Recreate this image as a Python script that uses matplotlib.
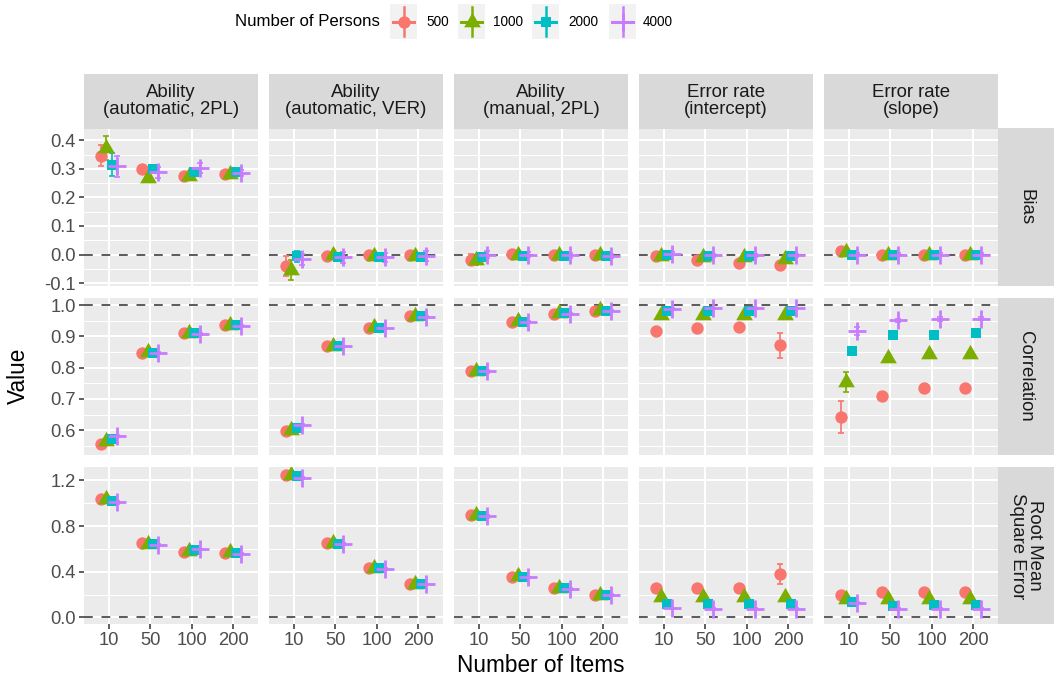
import numpy as np
import matplotlib
matplotlib.use('Agg')
import matplotlib.pyplot as plt
import matplotlib.ticker as mticker

plt.rcParams['font.family'] = ['Liberation Sans', 'DejaVu Sans']

ITEMS = ['10', '50', '100', '200']
PERSONS = ['500', '1000', '2000', '4000']
PARAMS = ['Ability\n(automatic, 2PL)', 'Ability\n(automatic, VER)', 'Ability\n(manual, 2PL)',
          'Error rate\n(intercept)', 'Error rate\n(slope)']
MEASURES = ['Bias', 'Correlation', 'Root Mean\nSquare Error']
REFERENCE = [0.0, 1.0, 0.0]

# values[param][persons][items]
BIAS = [
    [[0.346, 0.300, 0.274, 0.283], [0.373, 0.268, 0.276, 0.281], [0.315, 0.300, 0.288, 0.290], [0.309, 0.288, 0.303, 0.285]],
    [[-0.041, -0.004, -0.002, -0.003], [-0.055, -0.003, -0.004, -0.004], [-0.006, -0.010, -0.010, -0.008], [-0.017, -0.010, -0.010, -0.005]],
    [[-0.018, 0.003, -0.002, -0.003], [-0.020, 0.000, 0.000, 0.000], [-0.008, -0.005, -0.005, -0.005], [0.000, 0.000, -0.003, -0.005]],
    [[-0.006, -0.020, -0.030, -0.037], [-0.005, -0.010, -0.010, -0.015], [0.000, -0.005, -0.005, -0.005], [0.003, -0.003, -0.003, -0.003]],
    [[0.012, 0.000, -0.003, -0.003], [0.010, 0.000, 0.000, 0.000], [0.000, -0.003, 0.000, 0.000], [0.000, 0.000, 0.000, 0.000]],
]
BIAS_ERR = [
    [[0.037, 0.012, 0.008, 0.006], [0.042, 0.014, 0.008, 0.006], [0.041, 0.010, 0.008, 0.006], [0.036, 0.020, 0.018, 0.010]],
    [[0.035, 0.008, 0.006, 0.004], [0.035, 0.008, 0.006, 0.004], [0.020, 0.008, 0.006, 0.004], [0.020, 0.018, 0.016, 0.016]],
    [[0.020, 0.006, 0.004, 0.004], [0.015, 0.006, 0.004, 0.004], [0.010, 0.006, 0.004, 0.004], [0.012, 0.010, 0.008, 0.008]],
    [[0.005, 0.005, 0.005, 0.005], [0.005, 0.005, 0.005, 0.005], [0.005, 0.005, 0.005, 0.005], [0.005, 0.005, 0.005, 0.005]],
    [[0.005, 0.005, 0.005, 0.005], [0.005, 0.005, 0.005, 0.005], [0.005, 0.005, 0.005, 0.005], [0.005, 0.005, 0.005, 0.005]],
]

CORR = [
    [[0.557, 0.848, 0.911, 0.938], [0.565, 0.849, 0.911, 0.938], [0.572, 0.848, 0.910, 0.937], [0.581, 0.848, 0.908, 0.935]],
    [[0.597, 0.869, 0.928, 0.965], [0.601, 0.870, 0.929, 0.966], [0.607, 0.869, 0.928, 0.965], [0.617, 0.868, 0.926, 0.963]],
    [[0.789, 0.947, 0.973, 0.983], [0.790, 0.948, 0.975, 0.985], [0.790, 0.947, 0.974, 0.983], [0.788, 0.945, 0.973, 0.982]],
    [[0.917, 0.928, 0.930, 0.872], [0.970, 0.970, 0.970, 0.970], [0.981, 0.981, 0.981, 0.982], [0.989, 0.990, 0.990, 0.990]],
    [[0.642, 0.711, 0.736, 0.736], [0.754, 0.832, 0.844, 0.845], [0.855, 0.906, 0.905, 0.912], [0.917, 0.952, 0.956, 0.957]],
]
CORR_ERR = [
    [[0.004, 0.003, 0.002, 0.002], [0.004, 0.003, 0.002, 0.002], [0.004, 0.003, 0.002, 0.002], [0.004, 0.003, 0.002, 0.002]],
    [[0.004, 0.003, 0.002, 0.002], [0.004, 0.003, 0.002, 0.002], [0.004, 0.003, 0.002, 0.002], [0.004, 0.003, 0.002, 0.002]],
    [[0.004, 0.003, 0.002, 0.002], [0.004, 0.003, 0.002, 0.002], [0.004, 0.003, 0.002, 0.002], [0.004, 0.003, 0.002, 0.002]],
    [[0.006, 0.006, 0.006, 0.040], [0.004, 0.004, 0.004, 0.004], [0.003, 0.003, 0.003, 0.003], [0.002, 0.002, 0.002, 0.002]],
    [[0.050, 0.012, 0.006, 0.006], [0.032, 0.006, 0.006, 0.006], [0.008, 0.005, 0.005, 0.005], [0.012, 0.005, 0.005, 0.005]],
]

RMSE = [
    [[1.040, 0.650, 0.577, 0.568], [1.040, 0.645, 0.585, 0.570], [1.016, 0.640, 0.590, 0.565], [1.007, 0.638, 0.597, 0.556]],
    [[1.250, 0.650, 0.430, 0.293], [1.245, 0.650, 0.430, 0.295], [1.235, 0.645, 0.430, 0.295], [1.221, 0.640, 0.425, 0.290]],
    [[0.899, 0.351, 0.255, 0.196], [0.900, 0.360, 0.260, 0.200], [0.890, 0.352, 0.255, 0.198], [0.884, 0.350, 0.250, 0.195]],
    [[0.255, 0.255, 0.255, 0.380], [0.181, 0.180, 0.180, 0.180], [0.117, 0.115, 0.117, 0.120], [0.079, 0.078, 0.078, 0.078]],
    [[0.196, 0.220, 0.220, 0.220], [0.158, 0.165, 0.160, 0.160], [0.137, 0.099, 0.108, 0.110], [0.128, 0.078, 0.075, 0.075]],
]
RMSE_ERR = [
    [[0.010, 0.008, 0.006, 0.006], [0.010, 0.008, 0.006, 0.006], [0.010, 0.008, 0.006, 0.006], [0.010, 0.008, 0.006, 0.006]],
    [[0.010, 0.008, 0.006, 0.006], [0.010, 0.008, 0.006, 0.006], [0.010, 0.008, 0.006, 0.006], [0.010, 0.008, 0.006, 0.006]],
    [[0.010, 0.008, 0.006, 0.006], [0.010, 0.008, 0.006, 0.006], [0.010, 0.008, 0.006, 0.006], [0.010, 0.008, 0.006, 0.006]],
    [[0.010, 0.010, 0.010, 0.090], [0.008, 0.008, 0.008, 0.008], [0.006, 0.006, 0.006, 0.006], [0.005, 0.005, 0.005, 0.005]],
    [[0.010, 0.008, 0.008, 0.008], [0.008, 0.006, 0.006, 0.006], [0.006, 0.005, 0.005, 0.005], [0.005, 0.005, 0.005, 0.005]],
]

ROWS = [(BIAS, BIAS_ERR), (CORR, CORR_ERR), (RMSE, RMSE_ERR)]
Y_LIMITS = [(-0.11, 0.441), (0.52, 1.024), (-0.061, 1.318)]
Y_MAJOR = [[-0.1, 0.0, 0.1, 0.2, 0.3, 0.4], [0.6, 0.7, 0.8, 0.9, 1.0], [0.0, 0.4, 0.8, 1.2]]
Y_MINOR = [[-0.05, 0.05, 0.15, 0.25, 0.35], [0.55, 0.65, 0.75, 0.85, 0.95], [0.2, 0.6, 1.0]]

COLORS = ['#F8766D', '#7CAE00', '#00BFC4', '#C77CFF']
TRIANGLE = [(0, 1), (-0.866, -0.5), (0.866, -0.5), (0, 1)]
MARKERS = [('o', 8.9), (TRIANGLE, 13.9), ('s', 7.9), ('+', 12.6)]
DODGE = 0.52
OFFSETS = [(g - 1.5) * DODGE / 4 for g in range(4)]

W, H = 1056, 681
fig = plt.figure(figsize=(W / 100, H / 100), dpi=100)


def box(x0, y0, w, h):
    return [x0 / W, 1 - (y0 + h) / H, w / W, h / H]


COL_X, COL_STEP, PW = 84, 185, 174
ROW_Y, ROW_STEP, PH = 128.5, 169.2, 157.5


def draw_marker(ax, x, y, g, **kw):
    m, ms = MARKERS[g]
    if m == '+':
        ax.plot(x, y, ls='none', marker=m, ms=ms, mew=2.0, color=COLORS[g], **kw)
    else:
        ax.plot(x, y, ls='none', marker=m, ms=ms, mew=0, color=COLORS[g], **kw)


xs = np.arange(1, len(ITEMS) + 1)
for r, (vals, errs) in enumerate(ROWS):
    for c in range(len(PARAMS)):
        ax = fig.add_axes(box(COL_X + c * COL_STEP, ROW_Y + r * ROW_STEP, PW, PH))
        ax.set_facecolor('#EBEBEB')
        for s in ax.spines.values():
            s.set_visible(False)
        ax.set_xlim(0.4, 4.6)
        ax.set_ylim(*Y_LIMITS[r])
        ax.set_xticks(xs)
        ax.set_xticklabels(ITEMS)
        ax.yaxis.set_major_locator(mticker.FixedLocator(Y_MAJOR[r]))
        ax.yaxis.set_minor_locator(mticker.FixedLocator(Y_MINOR[r]))
        ax.yaxis.set_major_formatter(mticker.FuncFormatter(lambda v, p: f'{v:.1f}'))
        ax.set_axisbelow(True)
        ax.grid(which='major', color='white', lw=1.5)
        ax.grid(which='minor', axis='y', color='white', lw=0.75)
        ax.tick_params(which='minor', length=0)
        ax.tick_params(which='major', length=3.6, width=1.1, color='#333333',
                       labelcolor='#4D4D4D', labelsize=13.2, pad=2.2)
        if c > 0:
            ax.tick_params(axis='y', length=0, labelleft=False)
        if r < len(ROWS) - 1:
            ax.tick_params(axis='x', length=0, labelbottom=False)

        ax.axhline(REFERENCE[r], color='#5A5A5A', lw=1.4, dashes=(4.5, 4.5), zorder=2)
        for g in range(len(PERSONS)):
            ax.errorbar(xs + OFFSETS[g], vals[c][g], yerr=errs[c][g], fmt='none',
                        ecolor=COLORS[g], elinewidth=1.2, capsize=2.2, capthick=1.2, zorder=3)
        for g in range(len(PERSONS)):
            draw_marker(ax, xs + OFFSETS[g], vals[c][g], g, zorder=4)

        if r == 0:
            sax = fig.add_axes(box(COL_X + c * COL_STEP, 74, PW, 54.5))
            sax.set_facecolor('#D9D9D9')
            sax.set_xticks([])
            sax.set_yticks([])
            for s in sax.spines.values():
                s.set_visible(False)
            sax.text(0.5, 0.5, PARAMS[c], ha='center', va='center', fontsize=13.4,
                     color='#1A1A1A', linespacing=1.0, transform=sax.transAxes)

    rax = fig.add_axes(box(998, ROW_Y + r * ROW_STEP, 56, PH))
    rax.set_facecolor('#D9D9D9')
    rax.set_xticks([])
    rax.set_yticks([])
    for s in rax.spines.values():
        s.set_visible(False)
    rax.text(0.5, 0.5, MEASURES[r], ha='center', va='center', rotation=-90, fontsize=13.4,
             color='#1A1A1A', linespacing=1.0, transform=rax.transAxes)

fig.text(18 / W, 1 - 376 / H, 'Value', rotation=90, ha='center', va='center', fontsize=16.3)
fig.text(541 / W, 1 - 665 / H, 'Number of Items', ha='center', va='center', fontsize=16.3)

# legend on top
fig.text(235 / W, 1 - 22 / H, 'Number of Persons', ha='left', va='center', fontsize=12.1)
KEY_X = [390, 458, 532, 609]
LABEL_X = [426, 493, 568, 643]
for g in range(len(PERSONS)):
    kax = fig.add_axes(box(KEY_X[g], 4, 27, 35))
    kax.set_facecolor('#F2F2F2')
    kax.set_xlim(0, 1)
    kax.set_ylim(0, 1)
    kax.set_xticks([])
    kax.set_yticks([])
    for s in kax.spines.values():
        s.set_visible(False)
    kax.plot([0.5, 0.5], [0.08, 0.92], color=COLORS[g], lw=1.8)
    kax.plot([0.1, 0.9], [0.5, 0.5], color=COLORS[g], lw=2.2)
    draw_marker(kax, [0.5], [0.5], g)
    fig.text(LABEL_X[g] / W, 1 - 22 / H, PERSONS[g], ha='left', va='center', fontsize=9.8)

fig.savefig('out.png', dpi=100)
